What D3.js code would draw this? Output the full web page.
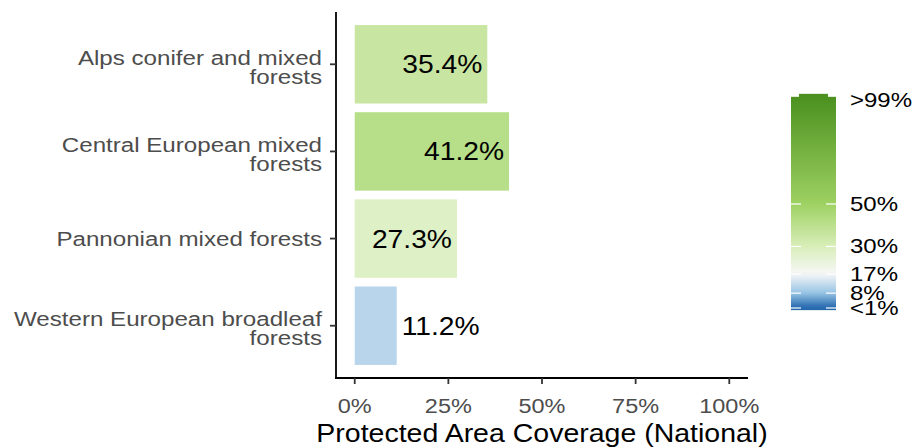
<!DOCTYPE html>
<html>
<head>
<meta charset="utf-8">
<script src="https://cdn.jsdelivr.net/npm/d3@7"></script>
<style>
  body { margin: 0; background: #fff; }
  text { font-family: "Liberation Sans", Arial, sans-serif; }
</style>
</head>
<body>
<svg id="chart" width="914" height="447"></svg>
<script>
'use strict';

// data
const categories = ['Alps conifer and mixed forests',
                    'Central European mixed forests',
                    'Pannonian mixed forests',
                    'Western European broadleaf forests'];
const labelLines = [['Alps conifer and mixed', 'forests'],
                    ['Central European mixed', 'forests'],
                    ['Pannonian mixed forests'],
                    ['Western European broadleaf', 'forests']];
const coverage = [35.4, 41.2, 27.3, 11.2];
const xTicks = [0, 25, 50, 75, 100];
const legendBreaks = [1, 8, 17, 30, 50, 99];
const legendLabels = ['<1%', '8%', '17%', '30%', '50%', '>99%'];
const legendColors = ['#2166ac', '#96c3e4', '#f7f7f7', '#d8eeb8', '#9dd162', '#4d9221'];

const svg = d3.select('#chart');

const x = d3.scaleLinear().domain([-5, 105]).range([336, 748]);
const y = d3.scaleBand().domain(categories).range([12, 378])
            .paddingInner(0.1).paddingOuter(0.15);
const color = d3.scaleLinear().domain(legendBreaks).range(legendColors);

// text helper - target text renders wider than it is tall
function stretched(g, tx, ty, sx) {
  return g.append('text').attr('transform', `translate(${tx},${ty}) scale(${sx},1)`);
}

// bars
svg.append('g').selectAll('rect')
  .data(categories)
  .join('rect')
    .attr('x', x(0))
    .attr('y', d => y(d))
    .attr('width', (d, i) => x(coverage[i]) - x(0))
    .attr('height', y.bandwidth())
    .attr('fill', (d, i) => color(coverage[i]));

// value labels
const vals = svg.append('g');
categories.forEach((c, i) => {
  const v = coverage[i];
  const inside = v > 20;
  stretched(vals, inside ? x(v) - 5 : x(v) + 5, y(c) + y.bandwidth() / 2 + 9, 1.13)
    .attr('text-anchor', inside ? 'end' : 'start')
    .attr('font-size', 25)
    .attr('fill', '#000')
    .text(v.toFixed(1) + '%');
});

// y axis
svg.append('line')
  .attr('x1', 336).attr('x2', 336).attr('y1', 12).attr('y2', 379)
  .attr('stroke', '#000').attr('stroke-width', 1.8);
const yl = svg.append('g');
categories.forEach((c, i) => {
  const cy = y(c) + y.bandwidth() / 2;
  yl.append('line')
    .attr('x1', 330).attr('x2', 336).attr('y1', cy).attr('y2', cy)
    .attr('stroke', '#333').attr('stroke-width', 1.8);
  const lines = labelLines[i];
  const lh = 19;
  const top = cy - (lines.length - 1) * lh / 2 + (lines.length > 1 ? 10 : 7);
  lines.forEach((ln, j) => {
    stretched(yl, 322, top + j * lh, 1.15)
      .attr('text-anchor', 'end')
      .attr('font-size', 21)
      .attr('fill', '#4d4d4d')
      .text(ln);
  });
});

// x axis
svg.append('line')
  .attr('x1', 335).attr('x2', 748).attr('y1', 378).attr('y2', 378)
  .attr('stroke', '#000').attr('stroke-width', 1.8);
const xl = svg.append('g');
xTicks.forEach(t => {
  xl.append('line')
    .attr('x1', x(t)).attr('x2', x(t)).attr('y1', 378).attr('y2', 384)
    .attr('stroke', '#333').attr('stroke-width', 1.8);
  stretched(xl, x(t), 413, 1.12)
    .attr('text-anchor', 'middle')
    .attr('font-size', 21)
    .attr('fill', '#4d4d4d')
    .text(t + '%');
});
stretched(svg, (x(-5) + x(105)) / 2, 442, 1.14)
  .attr('text-anchor', 'middle')
  .attr('font-size', 25)
  .attr('fill', '#000')
  .text('Protected Area Coverage (National)');

// legend
const ly = d3.scaleLinear().domain([1, 99]).range([308, 100]);
const defs = svg.append('defs');
const grad = defs.append('linearGradient').attr('id', 'lg')
  .attr('x1', 0).attr('x2', 0).attr('y1', 1).attr('y2', 0);
d3.range(0, 101, 2).forEach(v => {
  grad.append('stop').attr('offset', v / 100).attr('stop-color', color(Math.max(1, Math.min(99, v))));
});
const lx0 = 791, lw = 45;
svg.append('rect')
  .attr('x', lx0).attr('y', ly(100.5)).attr('width', lw).attr('height', ly(0) - ly(100.5))
  .attr('fill', 'url(#lg)');
svg.append('rect')
  .attr('x', lx0 + 8).attr('y', ly(100.5) - 3).attr('width', lw - 16).attr('height', 4)
  .attr('fill', color(99));
legendBreaks.forEach((b, i) => {
  if (b < 99) {
    [[lx0, lx0 + 10], [lx0 + lw - 10, lx0 + lw]].forEach(s => {
      svg.append('line')
        .attr('x1', s[0]).attr('x2', s[1]).attr('y1', ly(b)).attr('y2', ly(b))
        .attr('stroke', '#fff').attr('stroke-width', 1.2);
    });
  }
  stretched(svg, 850, ly(b) + 7, 1.2)
    .attr('font-size', 20)
    .attr('fill', '#000')
    .text(legendLabels[i]);
});
</script>
</body>
</html>
